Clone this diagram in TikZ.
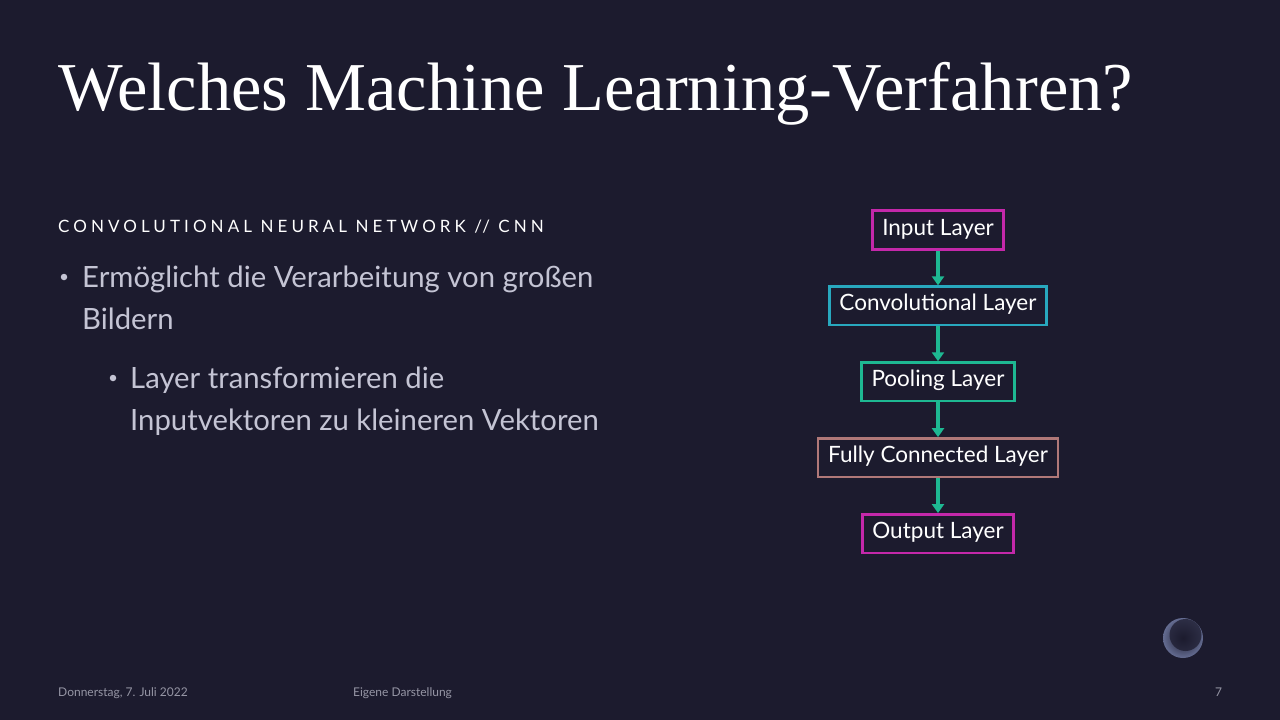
\documentclass[tikz,border=0pt]{standalone}
\usepackage{fontspec}
\setmainfont{Lato}
\newfontfamily\titlefont{Liberation Serif}
\usepackage{xcolor}
\usetikzlibrary{positioning, arrows.meta}

\definecolor{slidebg}{RGB}{28,27,46}
\definecolor{bodygrey}{RGB}{196,196,212}
\definecolor{footgrey}{RGB}{150,150,165}
\definecolor{orbrim}{RGB}{100,108,145}
\definecolor{magentaedge}{RGB}{196,40,170}
\definecolor{cyanedge}{RGB}{40,168,190}
\definecolor{greenedge}{RGB}{30,184,146}
\definecolor{roseedge}{RGB}{176,120,120}

\tikzset{
    layerbox/.style={draw=#1, line width=2.6pt, fill=slidebg, text=white,
        font=\fontsize{22.5}{26}\selectfont, minimum height=38.5pt,
        inner xsep=10pt, text height=15pt, text depth=5pt},
    flowarrow/.style={draw=greenedge, line width=3.2pt,
        -{Triangle[width=12pt,length=9pt]}},
    bulletline/.style={anchor=base west, text=bodygrey,
        font=\fontsize{29.3}{34}\selectfont, inner sep=0pt},
    bulletdot/.style={circle, fill=bodygrey, inner sep=0pt, minimum size=6.5pt},
    footline/.style={anchor=base west, text=footgrey,
        font=\fontsize{12}{14}\selectfont, inner sep=0pt}
}

\begin{document}
\begin{tikzpicture}[x=1pt, y=-1pt]

    % Slide background
    \fill[slidebg] (0,0) rectangle (1280,720);
    \useasboundingbox (0,0) rectangle (1280,720);

    % Title
    \node[anchor=base west, inner sep=0pt, text=white,
          font=\titlefont\fontsize{68.5}{76}\selectfont] (title) at (58,110)
          {Welches Machine Learning-Verfahren?};

    % Section heading
    \node[anchor=base west, inner sep=0pt, text=white,
          font=\addfontfeature{LetterSpace=24}\fontsize{17}{19}\selectfont] (heading) at (58,232)
          {CONVOLUTIONAL NEURAL NETWORK // CNN};

    % Bullet points
    \node[bulletdot] (bulletA) at (64,277) {};
    \node[bulletline] (lineA) at (82,287) {Ermöglicht die Verarbeitung von großen};
    \node[bulletline] (lineB) at (82,329) {Bildern};
    \node[bulletdot] (bulletB) at (113,378) {};
    \node[bulletline] (lineC) at (130,388) {Layer transformieren die};
    \node[bulletline] (lineD) at (130,430) {Inputvektoren zu kleineren Vektoren};

    % CNN layer stack
    \node[layerbox=magentaedge] (input) at (938,230) {Input Layer};
    \node[layerbox=cyanedge, below=34.8pt of input] (conv) {Convolutional Layer};
    \node[layerbox=greenedge, below=34.8pt of conv] (pool) {Pooling Layer};
    \node[layerbox=roseedge, below=34.8pt of pool] (dense) {Fully Connected Layer};
    \node[layerbox=magentaedge, below=34.8pt of dense] (output) {Output Layer};

    % Arrows between layers
    \draw[flowarrow] (input) -- (conv);
    \draw[flowarrow] (conv) -- (pool);
    \draw[flowarrow] (pool) -- (dense);
    \draw[flowarrow] (dense) -- (output);

    % Decorative orb
    \shade[inner color=slidebg, outer color=orbrim] (1183,638) circle (20);
    \fill[slidebg, opacity=0.75] (1185.5,635) circle (16);

    % Footer
    \node[footline] (date) at (58,696) {Donnerstag, 7. Juli 2022};
    \node[footline] (source) at (353,696) {Eigene Darstellung};
    \node[footline] (page) at (1215,696) {7};

\end{tikzpicture}
\end{document}
